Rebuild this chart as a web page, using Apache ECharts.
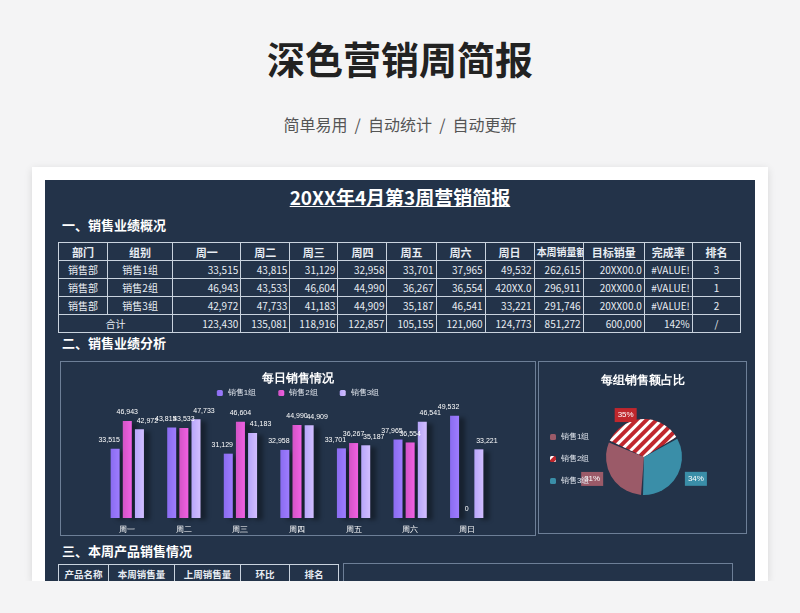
<!DOCTYPE html>
<html><head><meta charset="utf-8">
<script src="https://cdn.jsdelivr.net/npm/echarts@6/dist/echarts.min.js"></script>
<style>
body{margin:0;width:800px;height:613px;background:#f4f4f5;font-family:"Noto Sans CJK SC",sans-serif;position:relative;overflow:hidden}
.abs{position:absolute}
#card{left:32px;top:167px;width:736px;height:414px;background:#fff;box-shadow:0 2px 8px rgba(0,0,0,.12)}
#sheet{left:45px;top:180px;width:710px;height:401px;background:#233349}
.h{color:#fff;font-weight:bold;font-size:13px}
table{border-collapse:collapse;color:#e8edf3;font-size:10px;table-layout:fixed}
td{border:1px solid #c9d3de;height:17px;padding:0 2px;white-space:nowrap;overflow:hidden}
tr.head td{font-weight:bold;font-size:11px;text-align:center}
.box{border:1px solid #6d7f97}
</style></head><body>
<div class="abs" style="left:0;top:30px;width:800px;text-align:center;font-size:38px;font-weight:bold;color:#222">深色营销周简报</div>
<div class="abs" style="left:0;top:112px;width:800px;text-align:center;font-size:16px;color:#555">简单易用 &nbsp;/ &nbsp;自动统计 &nbsp;/ &nbsp;自动更新</div>
<div id="card" class="abs"></div>
<div id="sheet" class="abs"></div>
<div class="abs" style="left:45px;top:183px;width:710px;text-align:center;color:#fff;font-weight:bold;font-size:19px;text-decoration:underline">20XX年4月第3周营销简报</div>
<div class="abs h" style="left:62px;top:215px">一、销售业绩概况</div>
<table id="tbl" class="abs" style="left:58px;top:242px;width:683px"></table>
<div class="abs h" style="left:62px;top:333px">二、销售业绩分析</div>
<div id="bar" class="abs box" style="left:60px;top:361px;width:474px;height:173px"></div>
<div id="pie" class="abs box" style="left:538px;top:361px;width:207px;height:171px"></div>
<div class="abs h" style="left:62px;top:541px">三、本周产品销售情况</div>
<table class="abs" style="left:58px;top:564px;width:280px;font-size:9px"><colgroup><col style="width:50px"><col style="width:66px"><col style="width:66px"><col style="width:49px"><col style="width:49px"></colgroup><tr class="head"><td style="font-size:9.5px">产品名称</td><td style="font-size:9.5px">本周销售量</td><td style="font-size:9.5px">上周销售量</td><td style="font-size:9.5px">环比</td><td style="font-size:9.5px">排名</td></tr></table>
<div class="abs box" style="left:343px;top:563px;width:388px;height:30px"></div>
<div class="abs" style="left:0;top:581px;width:800px;height:32px;background:#f4f4f5"></div>
<script>
const days = ["周一","周二","周三","周四","周五","周六","周日"];
const groups = ["销售1组","销售2组","销售3组"];
const sales1 = [33515,43815,31129,32958,33701,37965,49532];
const sales2 = [46943,43533,46604,44990,36267,36554,0];
const sales3 = [42972,47733,41183,44909,35187,46541,33221];
const sunday2Text = "420XX.0";
const weekTotals = [262615,296911,291746];
const dailyTotals = [123430,135081,118916,122857,105155,121060,124773];
const grandTotal = 851272;
const targets = ["20XX00.0","20XX00.0","20XX00.0"];
const rates = ["#VALUE!","#VALUE!","#VALUE!"];
const ranks = [3,1,2];
const pieLabels = ["31%","35%","34%"];

const fmt = (v) => v.toLocaleString("en-US");
const widths = [49,65,68,49,48,49,49,49,49,49,61,48,48];
const tbl = document.getElementById("tbl");
let html = "<colgroup>" + widths.map((w) => `<col style="width:${w}px">`).join("") + "</colgroup>";
html += '<tr class="head">' + ["部门","组别",...days,"本周销量额","目标销量","完成率","排名"].map((t) => `<td>${t}</td>`).join("") + "</tr>";
[sales1, sales2, sales3].forEach((row, i) => {
  const cells = row.map((v, j) => (i === 1 && j === 6 ? sunday2Text : fmt(v)));
  html += `<tr><td style="text-align:center">销售部</td><td style="text-align:center">${groups[i]}</td>` +
    cells.map((c) => `<td style="text-align:right">${c}</td>`).join("") +
    `<td style="text-align:right">${fmt(weekTotals[i])}</td><td style="text-align:right">${targets[i]}</td>` +
    `<td style="text-align:right">${rates[i]}</td><td style="text-align:center">${ranks[i]}</td></tr>`;
});
html += `<tr><td colspan="2" style="text-align:center">合计</td>` + dailyTotals.map((v) => `<td style="text-align:right">${fmt(v)}</td>`).join("") +
  `<td style="text-align:right">${fmt(grandTotal)}</td><td style="text-align:right">600,000</td><td style="text-align:right">142%</td><td style="text-align:center">/</td></tr>`;
tbl.innerHTML = html;
tbl.rows[0].cells[9].style.fontSize = "10px";

const colors = ["#8a6cf0","#d254c6","#b7a6fa"];
const bar = echarts.init(document.getElementById("bar"));
bar.setOption({
  title: { text: "每日销售情况", left: "center", top: 6, textStyle: { color: "#fff", fontSize: 12, fontWeight: "bold" } },
  legend: { top: 22, itemWidth: 6, itemHeight: 6, itemGap: 22, textStyle: { color: "#dfe4ec", fontSize: 8 } },
  grid: { left: 38, right: 40, top: 32, bottom: 17 },
  xAxis: { type: "category", data: days, axisLine: { show: false }, axisTick: { show: false },
    axisLabel: { color: "#fff", fontSize: 8 } },
  yAxis: { type: "value", min: 0, max: 60000, show: false },
  series: [sales1, sales2, sales3].map((d, i) => ({
    name: groups[i], type: "bar", data: d, barWidth: 9, barGap: "35%",
    itemStyle: { color: new echarts.graphic.LinearGradient(0, 0, 1, 0, [
      { offset: 0, color: colors[i] }, { offset: 1, color: echarts.color.lift(colors[i], -0.15) }]),
      shadowColor: "rgba(0,0,0,0.35)", shadowOffsetX: 6, shadowOffsetY: 2, shadowBlur: 4 },
    label: { show: true, position: "top", color: "#fff", fontSize: 7, formatter: (p) => fmt(p.value),
      offset: [i === 0 ? -6 : i === 2 ? 8 : 0, 0] }
  }))
});

const pie = echarts.init(document.getElementById("pie"));
const pieColors = ["#9b5a68","#c0272d","#3a8ea8"];
pie.setOption({
  title: { text: "每组销售额占比", left: "center", top: 8, textStyle: { color: "#fff", fontSize: 12, fontWeight: "bold" } },
  legend: { orient: "vertical", left: 6, top: 66, itemGap: 14, itemWidth: 6, itemHeight: 6,
    textStyle: { color: "#dfe4ec", fontSize: 8 } },
  series: [{
    type: "pie", center: [105, 95], radius: 38, startAngle: 267, selectedOffset: 8,
    padAngle: 3,
    data: groups.map((g, i) => {
      const itemStyle = { color: pieColors[i] };
      if (i === 1) itemStyle.decal = { symbol: "rect", color: "#fff", dashArrayX: [1, 0], dashArrayY: [3, 4], rotation: -Math.PI / 4 };
      return { name: g, value: weekTotals[i], selected: i === 1, itemStyle,
        label: { backgroundColor: pieColors[i], formatter: pieLabels[i] } };
    }),
    label: { color: "#fff", fontSize: 8, padding: [3, 3] },
    labelLine: { show: false, length: 4, length2: 0 }
  }]
});
</script>
</body></html>
